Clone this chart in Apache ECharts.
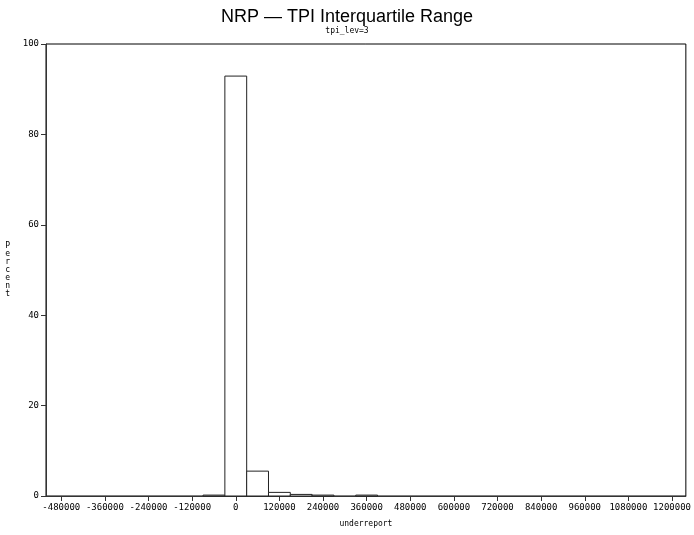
<!DOCTYPE html>
<html><head><meta charset="utf-8">
<script src="https://cdn.jsdelivr.net/npm/echarts@6/dist/echarts.min.js"></script>
<style>html,body{margin:0;padding:0;background:#fff}#c{width:694px;height:535px}</style>
</head><body><div id="c"></div>
<script>
const binStarts = [-90000, -30000, 30000, 90000, 150000, 210000, 330000];
const binWidth = 60000;
const percents = [0.2, 92.9, 5.5, 0.8, 0.35, 0.2, 0.2];
const xTicks = [-480000, -360000, -240000, -120000, 0, 120000, 240000, 360000, 480000, 600000, 720000, 840000, 960000, 1080000, 1200000];
const yTicks = [0, 20, 40, 60, 80, 100];

const mono = 'DejaVu Sans Mono';
const chart = echarts.init(document.getElementById('c'));
chart.setOption({
  animation: false,
  title: {
    text: 'NRP — TPI Interquartile Range',
    subtext: 'tpi_lev=3',
    left: 'center', top: 3, itemGap: 1,
    textStyle: {fontFamily: 'Liberation Sans', fontSize: 18, fontWeight: 'normal', color: '#000'},
    subtextStyle: {fontFamily: mono, fontSize: 8, color: '#000'}
  },
  grid: {left: 46, right: 7, top: 44, bottom: 39, show: true, borderColor: '#000', borderWidth: 1},
  xAxis: {
    type: 'value', min: -522000, max: 1238000,
    name: 'underreport', nameLocation: 'middle', nameGap: 24,
    nameTextStyle: {fontFamily: mono, fontSize: 8, color: '#000'},
    axisLine: {onZero: false, lineStyle: {color: '#333'}},
    axisTick: {show: true, inside: false, length: 5, customValues: xTicks, lineStyle: {color: '#333'}},
    axisLabel: {customValues: xTicks, fontFamily: mono, fontSize: 9, color: '#000', margin: 7, formatter: v => String(v)},
    splitLine: {show: false}
  },
  yAxis: {
    type: 'value', min: 0, max: 100, interval: 20,
    name: 'P\ne\nr\nc\ne\nn\nt', nameLocation: 'middle', nameGap: 36, nameRotate: 0,
    nameTextStyle: {fontFamily: mono, fontSize: 8, color: '#000', lineHeight: 8},
    axisLine: {show: true, onZero: false, lineStyle: {color: '#333'}},
    axisTick: {show: true, length: 5, lineStyle: {color: '#333'}},
    axisLabel: {customValues: yTicks, fontFamily: mono, fontSize: 9, color: '#000', margin: 7},
    splitLine: {show: false}
  },
  series: [{
    type: 'custom',
    data: binStarts.map((s, i) => [s, s + binWidth, percents[i]]),
    encode: {x: [0, 1], y: 2},
    renderItem: function (params, api) {
      const p0 = api.coord([api.value(0), 0]);
      const p1 = api.coord([api.value(1), api.value(2)]);
      return {
        type: 'rect',
        shape: {x: p0[0], y: p1[1], width: p1[0] - p0[0], height: p0[1] - p1[1]},
        style: {fill: '#fff', stroke: '#222', lineWidth: 1}
      };
    }
  }]
});
</script></body></html>
